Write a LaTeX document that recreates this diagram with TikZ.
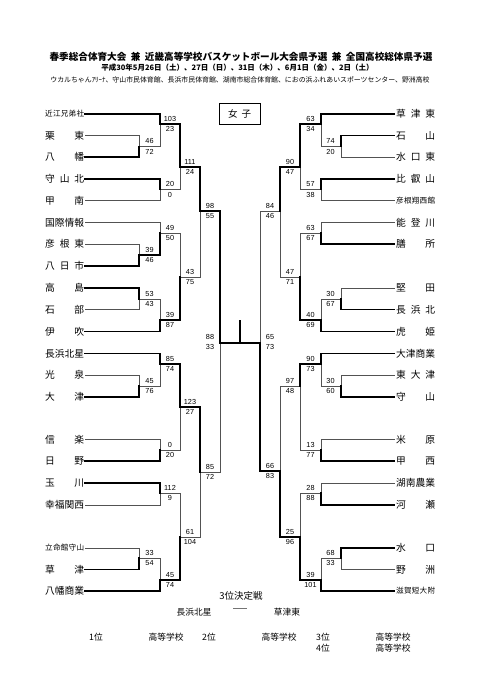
\documentclass[tikz,border=0pt]{standalone}
\usepackage{fontspec}
\setmainfont{Noto Sans CJK JP}
\newfontfamily\numfont{Liberation Sans}
\newcommand\tn[1]{\makebox[39pt][s]{\fontsize{9.75}{10}\selectfont #1}}
\newcommand\tsn[1]{\makebox[39pt][s]{\fontsize{7.6}{8}\selectfont #1}}
\begin{document}
\begin{tikzpicture}[x=1pt,y=-1pt,
  ls/.style={line width=1pt, black!68, line cap=rect},
  wn/.style={line width=1.8pt, black, line cap=rect},
  sc/.style={inner sep=0pt, font=\numfont\fontsize{7.3}{8}\selectfont},
  team/.style={inner sep=0pt, anchor=west},
  lab/.style={inner sep=0pt}]
\fill[white] (0,0) rectangle (481,680);
\useasboundingbox (0,0) rectangle (481,680);

% titles
\node[lab] (t1) at (241,57) {\bfseries\fontsize{9.6}{10}\selectfont 春季総合体育大会\hspace{4.5pt}兼\hspace{4.5pt}近畿高等学校バスケットボール大会県予選\hspace{4.5pt}兼\hspace{4.5pt}全国高校総体県予選};
\node[lab] (t2) at (237.5,68) {\bfseries\fontsize{7.5}{9}\selectfont 平成30年5月26日（土）、27日（日）、31日（木）、6月1日（金）、2日（土）};
\node[lab] (t3) at (240,80) {\fontsize{6.9}{8}\selectfont ウカルちゃんｱﾘｰﾅ、守山市民体育館、長浜市民体育館、湖南市総合体育館、におの浜ふれあいスポーツセンター、野洲高校};

\node[draw, line width=0.8pt, minimum width=41pt, minimum height=21pt, inner sep=0pt] (girls) at (239.5,113.5) {\fontsize{9.5}{10}\selectfont 女\hspace{4pt}子};

% left teams
\foreach \y/\t [count=\i] in {
 114/{\tsn{近\hfill 江\hfill 兄\hfill 弟\hfill 社}},
 135.5/{\tn{栗\hfill 東}},
 157/{\tn{八\hfill 幡}},
 179/{\tn{守\hfill 山\hfill 北}},
 200.5/{\tn{甲\hfill 南}},
 222.5/{\tn{国\hfill 際\hfill 情\hfill 報}},
 244/{\tn{彦\hfill 根\hfill 東}},
 266/{\tn{八\hfill 日\hfill 市}},
 288/{\tn{高\hfill 島}},
 309.5/{\tn{石\hfill 部}},
 331.5/{\tn{伊\hfill 吹}},
 353.5/{\tn{長\hfill 浜\hfill 北\hfill 星}},
 375/{\tn{光\hfill 泉}},
 397/{\tn{大\hfill 津}},
 439.5/{\tn{信\hfill 楽}},
 461/{\tn{日\hfill 野}},
 483/{\tn{玉\hfill 川}},
 505/{\tn{幸\hfill 福\hfill 関\hfill 西}},
 548/{\tsn{立\hfill 命\hfill 館\hfill 守\hfill 山}},
 569.5/{\tn{草\hfill 津}},
 591/{\tn{八\hfill 幡\hfill 商\hfill 業}}}
 \node[team] (lt\i) at (45,\y) {\t};

% right teams
\foreach \y/\t [count=\i] in {
 114/{\tn{草\hfill 津\hfill 東}},
 135.5/{\tn{石\hfill 山}},
 157/{\tn{水\hfill 口\hfill 東}},
 179/{\tn{比\hfill 叡\hfill 山}},
 200.5/{\tsn{彦\hfill 根\hfill 翔\hfill 西\hfill 館}},
 222.5/{\tn{能\hfill 登\hfill 川}},
 244/{\tn{膳\hfill 所}},
 288/{\tn{堅\hfill 田}},
 309.5/{\tn{長\hfill 浜\hfill 北}},
 331.5/{\tn{虎\hfill 姫}},
 353.5/{\tn{大\hfill 津\hfill 商\hfill 業}},
 375/{\tn{東\hfill 大\hfill 津}},
 397/{\tn{守\hfill 山}},
 439.5/{\tn{米\hfill 原}},
 461/{\tn{甲\hfill 西}},
 483/{\tn{湖\hfill 南\hfill 農\hfill 業}},
 505/{\tn{河\hfill 瀬}},
 548/{\tn{水\hfill 口}},
 569.5/{\tn{野\hfill 洲}},
 591/{\tsn{滋\hfill 賀\hfill 短\hfill 大\hfill 附}}}
 \node[team] (rt\i) at (396,\y) {\t};

% losing lines
\foreach \xs/\ya/\xm/\yo in {
 85/135.5/139/146.5, 139/146.5/160/124, 85/200.5/160/189.5, 160/189.5/180/167,
 85/244/139/255, 85/222.5/160/233, 85/309.5/139/299, 139/299/160/320,
 160/233/180/277, 180/277/200/211, 85/375/139/386, 139/386/160/364,
 85/439.5/160/450, 160/450/180/407, 85/505/160/493, 85/548/139/558,
 139/558/160/580, 160/493/180/537, 180/537/200/472, 200/472/220/343,
 394/157/341/146.5, 341/146.5/321/124, 394/200.5/321/189.5, 321/189.5/300/167,
 394/222.5/321/233, 394/288/341/299, 341/299/321/320, 321/233/300/277,
 300/277/280/211, 394/375/341/386, 341/386/321/364, 394/439.5/321/450,
 321/450/300/386, 394/483/321/493, 394/569.5/341/558, 341/558/321/580,
 321/493/300/537, 300/386/280/471, 280/211/260/343}
 \draw[ls] (\xs,\ya) -- (\xm,\ya) -- (\xm,\yo);

% winning lines
\foreach \xs/\ya/\xm/\yo in {
 85/157/139/146.5, 85/114/160/124, 85/179/160/189.5, 160/124/180/167,
 85/266/139/255, 139/255/160/233, 85/288/139/299, 85/331.5/160/320,
 160/320/180/277, 180/167/200/211, 85/397/139/386, 85/353.5/160/364,
 85/461/160/450, 160/364/180/407, 85/483/160/493, 85/569.5/139/558,
 85/591/160/580, 160/580/180/537, 180/407/200/472, 200/211/220/343,
 394/135.5/341/146.5, 394/114/321/124, 394/179/321/189.5, 321/124/300/167,
 394/244/321/233, 394/309.5/341/299, 394/331.5/321/320, 321/320/300/277,
 300/167/280/211, 394/397/341/386, 394/353.5/321/364, 394/461/321/450,
 321/364/300/386, 394/505/321/493, 394/548/341/558, 394/591/321/580,
 321/580/300/537, 300/537/280/471, 280/471/260/343}
 \draw[wn] (\xs,\ya) -- (\xm,\ya) -- (\xm,\yo);

% final
\coordinate (fl) at (220,343);
\coordinate (fr) at (260,343);
\coordinate (fm) at (240,343);
\coordinate (ft) at (240,321);
\draw[wn] (fl) -- (fr);
\draw[wn] (fm) -- (ft);

% scores
\foreach \cx/\yo/\su/\sl [count=\i] in {
 149.5/146.5/46/72, 170/124/103/23, 170/189.5/20/0, 190/167/111/24,
 149.5/255/39/46, 170/233/49/50, 149.5/299/53/43, 170/320/39/87,
 190/277/43/75, 210/211/98/55, 149.5/386/45/76, 170/364/85/74,
 170/450/0/20, 190/407/123/27, 170/493/112/9, 149.5/558/33/54,
 170/580/45/74, 190/537/61/104, 210/472/85/72, 210/342/88/33,
 330.5/146.5/74/20, 310.5/124/63/34, 310.5/189.5/57/38, 290/167/90/47,
 310.5/233/63/67, 330.5/299/30/67, 310.5/320/40/69, 290/277/47/71,
 270/211/84/46, 330.5/386/30/60, 310.5/364/90/73, 310.5/450/13/77,
 290/386/97/48, 310.5/493/28/88, 330.5/558/68/33, 310.5/580/39/101,
 290/537/25/96, 270/471/66/83, 270/342/65/73}
 {\node[sc] (su\i) at (\cx,\yo-5.3) {\su};
  \node[sc] (sl\i) at (\cx,\yo+5.3) {\sl};}

% third place and ranking
\node[lab] (third) at (241,596) {\fontsize{9.5}{10}\selectfont 3位決定戦};
\node[lab] (ta) at (194,612) {\fontsize{8.75}{10}\selectfont 長浜北星};
\node[lab] (dash) at (240,612) {\fontsize{14}{14}\selectfont ─};
\node[lab] (tb) at (287,612) {\fontsize{8.75}{10}\selectfont 草津東};
\begin{scope}[every node/.style={lab, font=\fontsize{8.75}{10}\selectfont}]
\node (r1) at (96,637) {1位};
\node (h1) at (166,637) {高等学校};
\node (r2) at (209,637) {2位};
\node (h2) at (279,637) {高等学校};
\node (r3) at (323,637) {3位};
\node (h3) at (393,637) {高等学校};
\node (r4) at (323,648) {4位};
\node (h4) at (393,648) {高等学校};
\end{scope}
\end{tikzpicture}
\end{document}
